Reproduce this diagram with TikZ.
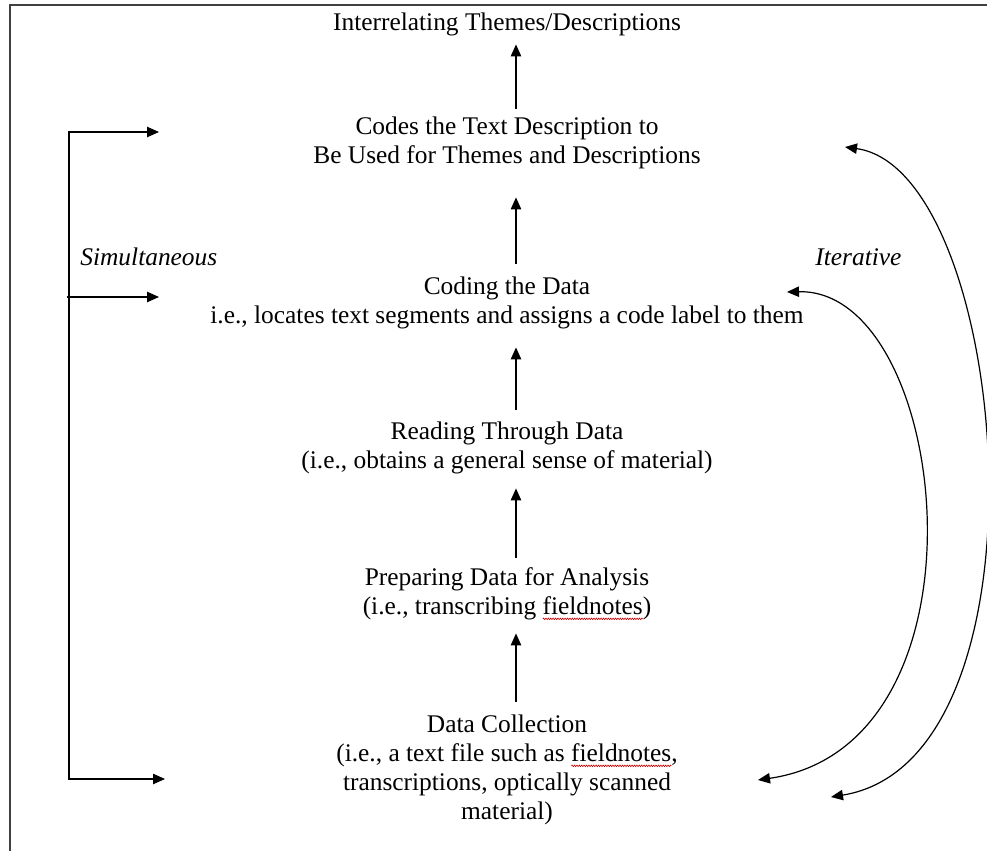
\documentclass[tikz,border=0pt]{standalone}
\usepackage{fontspec}
\setmainfont{Liberation Serif}
\usepackage{xcolor}
\usetikzlibrary{arrows.meta,decorations.pathmorphing}

% red wavy spell-check underline beneath a word
\newsavebox\wavebox
\newcommand\spellwave[1]{\sbox\wavebox{#1}\rlap{\smash{\tikz[baseline=0pt]\draw[red!80!black,line width=0.3pt,decorate,decoration={zigzag,segment length=1.2pt,amplitude=0.4pt}] (0pt,-2.3pt) -- (\wd\wavebox,-2.3pt);}}#1}

\tikzset{
  txt/.style={align=center, inner sep=0pt, font=\fontsize{12.7}{14.6}\selectfont},
  lab/.style={inner sep=0pt, anchor=base west, font=\fontsize{12.7}{14.6}\selectfont\itshape},
  tip/.style={-{Triangle[length=6pt,width=5.2pt]}, line width=0.7pt},
  both/.style={{Triangle[length=6pt,width=5.2pt]}-{Triangle[length=6pt,width=5.2pt]}, line width=0.6pt},
  up/.style={tip, xshift=4.5pt},
  frame/.style={draw=black!75, line width=1pt},
}

\begin{document}
\begin{tikzpicture}[x=0.5pt,y=-0.5pt]
\useasboundingbox (0,0) rectangle (987,851);

% page edge
\draw[frame] (10,851) -- (10,5) -- (987,5);

% process steps, bottom to top
\node[txt] (title) at (507,24.2) {\strut Interrelating Themes/Descriptions};
\node[txt] (codes) at (507,142.8) {\strut Codes the Text Description to\\\strut Be Used for Themes and Descriptions};
\node[txt] (coding) at (507,302.8) {\strut Coding the Data\\\strut i.e., locates text segments and assigns a code label to them};
\node[txt] (reading) at (507,447.8) {\strut Reading Through Data\\\strut (i.e., obtains a general sense of material)};
\node[txt] (prep) at (507,593.8) {\strut Preparing Data for Analysis\\\strut (i.e., transcribing \spellwave{fieldnotes})};
\node[txt] (collect) at (507,770) {\strut Data Collection\\\strut (i.e., a text file such as \spellwave{fieldnotes},\\\strut transcriptions, optically scanned\\\strut material)};

% upward flow
\draw[tip,shorten <=2.3pt,shorten >=2.6pt] ([xshift=4.5pt]codes.north) -- ([xshift=4.5pt]title.south);
\draw[tip,shorten <=4.8pt,shorten >=12.5pt] ([xshift=4.5pt]coding.north) -- ([xshift=4.5pt]codes.south);
\draw[tip,shorten <=4.3pt,shorten >=7.5pt] ([xshift=4.5pt]reading.north) -- ([xshift=4.5pt]coding.south);
\draw[tip,shorten <=3.3pt,shorten >=5.5pt] ([xshift=4.5pt]prep.north) -- ([xshift=4.5pt]reading.south);
\draw[tip,shorten <=4.8pt,shorten >=5pt] ([xshift=4.5pt]collect.north) -- ([xshift=4.5pt]prep.south);

% simultaneous bracket
\coordinate (lt) at (69,132);
\coordinate (lm) at (67,297);
\coordinate (lb) at (69,779);
\coordinate (rt) at (159,132);
\coordinate (rm) at (159,297);
\coordinate (rb) at (165,779);
\draw[both] (rt) -- (lt) -- (lb) -- (rb);
\draw[tip] (lm) -- (rm);
\node[lab] (simul) at (80,265) {Simultaneous};

% iterative loops
\coordinate (it0) at (787,292);
\coordinate (it1) at (758,780);
\coordinate (ot0) at (845,147);
\coordinate (ot1) at (831,797);
\draw[both] (it0) .. controls (950,288) and (1000,745) .. (it1);
\draw[both] (ot0) .. controls (1010,170) and (1060,760) .. (ot1);
\node[lab] (iter) at (815,265) {Iterative};
\end{tikzpicture}
\end{document}
